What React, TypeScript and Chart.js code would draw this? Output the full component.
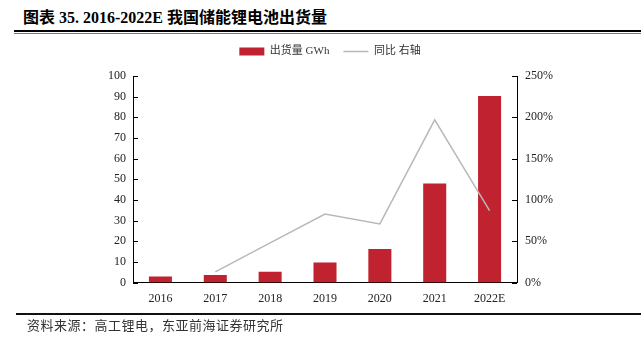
import React, { useEffect, useRef } from "react";
import { Chart, registerables } from "chart.js";

Chart.register(...registerables);

const categories = ["2016", "2017", "2018", "2019", "2020", "2021", "2022E"];
const shipmentGWh = [3.0, 3.7, 5.3, 9.7, 16.3, 48, 90.3];
const yoyPercent: (number | null)[] = [null, 13, 48, 83, 71, 197, 87];
const leftMax = 100;
const leftStep = 10;
const rightMax = 250;
const rightStep = 50;

const barLabel = "出货量 GWh";
const lineLabel = "同比 右轴";
const titleText = "图表 35. 2016-2022E 我国储能锂电池出货量";
const sourceText = "资料来源：高工锂电，东亚前海证券研究所";

const BAR_COLOR = "#C0232F";
const LINE_COLOR = "#b8b8b8";
const FONT = '"Liberation Serif", "Noto Sans CJK SC", serif';

const inwardTicks = {
  id: "inwardTicks",
  afterDraw(chart: any) {
    const ctx = chart.ctx;
    const area = chart.chartArea;
    ctx.save();
    ctx.strokeStyle = "#000";
    ctx.lineWidth = 1;
    const ys = chart.scales.y;
    ys.ticks.forEach((t: any) => {
      const py = Math.round(ys.getPixelForValue(t.value)) + 0.5;
      ctx.beginPath();
      ctx.moveTo(area.left, py);
      ctx.lineTo(area.left + 5, py);
      ctx.stroke();
    });
    const yr = chart.scales.y1;
    yr.ticks.forEach((t: any) => {
      const py = Math.round(yr.getPixelForValue(t.value)) + 0.5;
      ctx.beginPath();
      ctx.moveTo(area.right, py);
      ctx.lineTo(area.right - 5, py);
      ctx.stroke();
    });
    ctx.restore();
  },
};

const legendGap = {
  id: "legendGap",
  beforeInit(chart: any) {
    const lg = chart.legend;
    if (!lg || lg.__patched) return;
    const orig = lg.fit;
    lg.fit = function () {
      orig.call(this);
      this.height += 9;
    };
    lg.__patched = true;
  },
};

export default function App() {
  const ref = useRef<HTMLCanvasElement | null>(null);

  useEffect(() => {
    if (!ref.current) return;
    const chart = new Chart(ref.current, {
      type: "bar",
      data: {
        labels: categories,
        datasets: [
          {
            type: "bar",
            label: barLabel,
            data: shipmentGWh,
            backgroundColor: BAR_COLOR,
            borderWidth: 0,
            barPercentage: 0.42,
            categoryPercentage: 1,
            yAxisID: "y",
            order: 2,
          } as any,
          {
            type: "line",
            label: lineLabel,
            data: yoyPercent,
            borderColor: LINE_COLOR,
            backgroundColor: LINE_COLOR,
            borderWidth: 1.5,
            pointRadius: 0,
            tension: 0,
            yAxisID: "y1",
            order: 1,
          } as any,
        ],
      },
      options: {
        animation: false,
        responsive: false,
        maintainAspectRatio: false,
        layout: { padding: { left: 105, right: 86, top: 1, bottom: 6 } },
        plugins: {
          tooltip: { enabled: false },
          legend: {
            display: true,
            position: "top",
            labels: {
              usePointStyle: true,
              pointStyleWidth: 25,
              boxHeight: 8,
              padding: 14,
              color: "#333",
              font: { family: FONT, size: 11 },
              generateLabels: (c: any) => {
                const items = Chart.defaults.plugins.legend.labels.generateLabels(c);
                items.sort((a: any, b: any) => a.datasetIndex - b.datasetIndex);
                return items.map((it: any) => {
                  const isBar = it.datasetIndex === 0;
                  return {
                    ...it,
                    pointStyle: isBar ? "rect" : "line",
                    lineWidth: isBar ? 0 : 1.5,
                    fillStyle: isBar ? BAR_COLOR : LINE_COLOR,
                    strokeStyle: isBar ? BAR_COLOR : LINE_COLOR,
                  };
                });
              },
            },
          },
        },
        scales: {
          x: {
            grid: { display: false, drawTicks: false },
            border: { display: true, color: "#000", width: 1 },
            ticks: { color: "#222", font: { family: FONT, size: 12 }, padding: 9 },
          },
          y: {
            position: "left",
            min: 0,
            max: leftMax,
            grid: { display: false, drawTicks: false },
            border: { display: true, color: "#000", width: 1 },
            ticks: { stepSize: leftStep, color: "#222", font: { family: FONT, size: 12 }, padding: 7 },
            afterFit: (s: any) => {
              s.width = 28;
            },
          },
          y1: {
            position: "right",
            min: 0,
            max: rightMax,
            grid: { display: false, drawTicks: false },
            border: { display: true, color: "#000", width: 1 },
            ticks: {
              stepSize: rightStep,
              color: "#222",
              font: { family: FONT, size: 12 },
              padding: 8,
              callback: (v: any) => v + "%",
            },
            afterFit: (s: any) => {
              s.width = 38;
            },
          },
        },
      },
      plugins: [inwardTicks, legendGap],
    } as any);
    return () => chart.destroy();
  }, []);

  return (
    <div style={{ position: "absolute", left: 0, top: 0, width: 641, height: 339, background: "#fff", overflow: "hidden" }}>
      <div
        style={{
          position: "absolute",
          left: 23,
          top: 7,
          fontFamily: '"Liberation Serif", "Noto Sans CJK SC", serif',
          fontWeight: "bold",
          fontSize: 16,
          color: "#000",
          whiteSpace: "nowrap",
          lineHeight: "22px",
        }}
      >
        {titleText}
      </div>
      <div style={{ position: "absolute", left: 14, top: 30, width: 627, height: 2, background: "#000" }} />
      <div style={{ position: "absolute", left: 14, top: 33, width: 627, height: 1, background: "#777" }} />
      <canvas ref={ref} width={641} height={290} style={{ position: "absolute", left: 0, top: 31, width: 641, height: 290, display: "block" }} />
      <div style={{ position: "absolute", left: 16, top: 313, width: 625, height: 2, background: "#111" }} />
      <div
        style={{
          position: "absolute",
          left: 27,
          top: 316,
          fontFamily: '"Noto Sans CJK SC", sans-serif',
          fontSize: 13,
          letterSpacing: 0.5,
          color: "#333",
          whiteSpace: "nowrap",
          lineHeight: "18px",
        }}
      >
        {sourceText}
      </div>
    </div>
  );
}
